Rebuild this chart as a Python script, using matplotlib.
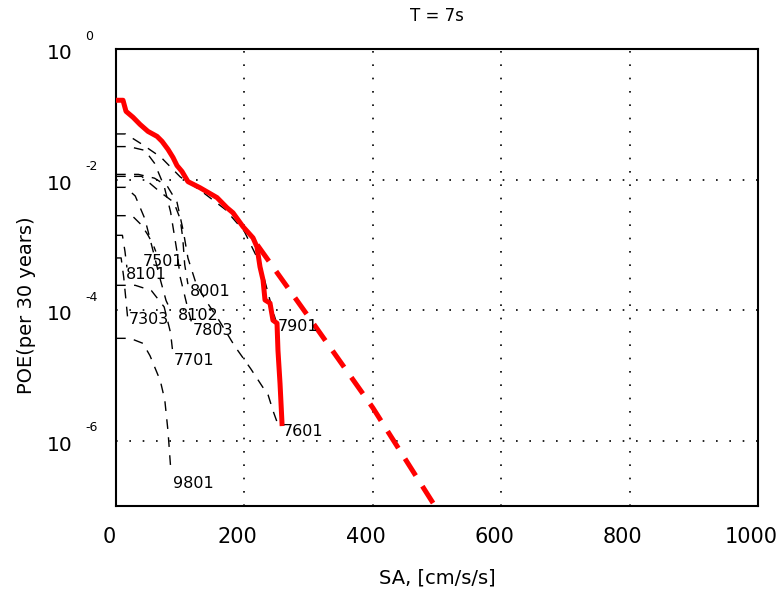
import numpy as np
import matplotlib
matplotlib.use("Agg")
import matplotlib.pyplot as plt
import matplotlib.transforms as mtransforms

plt.rcParams['font.family'] = ['DejaVu Sans']

# total hazard curve (solid red) and its extrapolation (dashed red)
sa_total = [0, 10.9, 15.6, 26.5, 37.4, 49.8, 63.9, 71.7, 81, 88.8, 95, 102.8, 112.1,
            130.8, 157.3, 172.9, 182.2, 197.8, 213.4, 219.6, 224.3, 229, 232.1, 239.9,
            244.5, 250.8, 252.3, 255.5, 258.6]
poe_total = [0.164, 0.164, 0.111, 0.090, 0.070, 0.0547, 0.0459, 0.0385, 0.029, 0.0218,
             0.0164, 0.0133, 0.0093, 0.0075, 0.0053, 0.0037, 0.0031, 0.0019, 0.00128,
             9.3e-4, 4.6e-4, 2.9e-4, 1.43e-4, 1.28e-4, 7.0e-5, 6.3e-5, 2.4e-5, 7.5e-6, 1.83e-6]
sa_fit = [220, 300, 400, 500]
poe_fit = [1.0e-3, 7.9e-5, 3.2e-6, 8.9e-8]

# hazard curves of individual events (dashed black)
events = ['7901', '7601', '8001', '7803', '8102', '7501', '8101', '7303', '7701', '9801']
sa_ev = {
    '7901': [0, 15, 40, 70, 100, 130, 170, 200, 225, 240, 250],
    '7601': [0, 35, 60, 80, 95, 105, 112, 125, 140, 160, 185, 210, 230, 237, 245, 252],
    '8001': [0, 40, 70, 90, 100, 104, 107, 112],
    '7803': [0, 20, 45, 60, 75, 85, 95, 100, 110, 118],
    '8102': [0, 15, 30, 45, 58, 68, 78, 85],
    '7501': [0, 25, 40, 50, 58, 62],
    '8101': [0, 10, 14, 17],
    '7303': [0, 8, 12, 15, 18],
    '7701': [0, 30, 55, 75, 85, 89],
    '9801': [0, 22, 42, 53, 69, 76, 81, 85],
}
poe_ev = {
    '7901': [0.05, 0.05, 0.035, 0.022, 0.011, 0.007, 0.0035, 0.0016, 5e-4, 1.4e-4, 6.3e-5],
    '7601': [0.012, 0.012, 0.0105, 0.0079, 0.0045, 0.0016, 6.3e-4, 2.5e-4, 1.4e-4, 7.1e-5,
             2.8e-5, 1.26e-5, 6.3e-6, 5.0e-6, 2.8e-6, 1.8e-6],
    '8001': [0.0112, 0.0112, 0.0063, 0.0045, 0.0025, 0.00126, 5e-4, 2.5e-4],
    '7803': [0.032, 0.032, 0.028, 0.0178, 0.0079, 0.0032, 7.9e-4, 3.2e-4, 1.26e-4, 6.3e-5],
    '8102': [0.0076, 0.0076, 0.0056, 0.0025, 7.9e-4, 3.2e-4, 1.4e-4, 1.0e-4],
    '7501': [2.8e-3, 2.8e-3, 2.0e-3, 1.4e-3, 1.0e-3, 7.9e-4],
    '8101': [1.4e-3, 1.4e-3, 7.9e-4, 4.5e-4],
    '7303': [6.3e-4, 6.3e-4, 3.2e-4, 1.6e-4, 7.9e-5],
    '7701': [2.4e-4, 2.4e-4, 2.0e-4, 1.12e-4, 4.5e-5, 2.0e-5],
    '9801': [3.7e-5, 3.7e-5, 3.1e-5, 2.0e-5, 8.3e-6, 4.2e-6, 1.4e-6, 4.0e-7],
}
# event id labels
label_sa = {'7901': 252, '7601': 260, '8001': 115, '7803': 120, '8102': 96,
            '7501': 42, '8101': 15.6, '7303': 20, '7701': 90, '9801': 89}
label_poe = {'7901': 5.6e-5, '7601': 1.4e-6, '8001': 1.9e-4, '7803': 4.9e-5, '8102': 8.3e-5,
             '7501': 5.5e-4, '8101': 3.5e-4, '7303': 7.1e-5, '7701': 1.7e-5, '9801': 2.2e-7}

x_ticks = [0, 200, 400, 600, 800, 1000]
y_decades = [0, -2, -4, -6]

fig = plt.figure(figsize=(7.81, 5.93), dpi=100)
ax = fig.add_axes([116 / 781, 1 - 506 / 593, 642 / 781, 457 / 593])
ax.set_yscale('log')
ax.set_xlim(0, 1000)
ax.set_ylim(1e-7, 1)

for ev in events:
    ax.plot(sa_ev[ev], poe_ev[ev], color='black', lw=1.0, ls=(0, (7, 6)), zorder=2)
    ax.text(label_sa[ev], label_poe[ev], ev, fontsize=11.5, ha='left', va='center',
            color='black', zorder=4)

ax.plot(sa_total, poe_total, color='red', lw=3.6, zorder=3, solid_joinstyle='round')
ax.plot(sa_fit, poe_fit, color='red', lw=3.6, ls=(0, (4, 2.5)), zorder=3)

# dotted grid on the labelled ticks only
for x in x_ticks[1:-1]:
    ax.axvline(x, color='black', lw=1.2, ls=(0, (1, 7)), zorder=1)
for d in y_decades[1:]:
    ax.axhline(10.0 ** d, color='black', lw=1.2, ls=(0, (1, 7)), zorder=1)

ax.set_xticks(x_ticks)
ax.set_xticklabels([str(v) for v in x_ticks], fontsize=15)
ax.tick_params(axis='x', length=0, pad=15)
shift = mtransforms.ScaledTranslation(-7 / 100, 0, fig.dpi_scale_trans)
for lbl in ax.get_xticklabels():
    lbl.set_transform(lbl.get_transform() + shift)
ax.set_yticks([])
ax.yaxis.set_minor_locator(matplotlib.ticker.NullLocator())
for s in ax.spines.values():
    s.set_linewidth(1.5)

# y tick labels written as 10 with raised exponent
for d in y_decades:
    ax.annotate('10', xy=(0, 10.0 ** d), xycoords=('axes fraction', 'data'),
                xytext=(-43, -4.5), textcoords='offset pixels',
                ha='right', va='center', fontsize=14.5)
    ax.annotate(str(d), xy=(0, 10.0 ** d), xycoords=('axes fraction', 'data'),
                xytext=(-31, 13), textcoords='offset pixels',
                ha='left', va='center', fontsize=9)

fig.text(437 / 781, 1 - 16 / 593, 'T = 7s', ha='center', va='center', fontsize=12)
fig.text(437 / 781, 1 - 578 / 593, 'SA, [cm/s/s]', ha='center', va='center', fontsize=14)
fig.text(27 / 781, 1 - 305 / 593, 'POE(per 30 years)', ha='center', va='center',
         fontsize=14, rotation=90)

fig.savefig('out.png', dpi=100)
